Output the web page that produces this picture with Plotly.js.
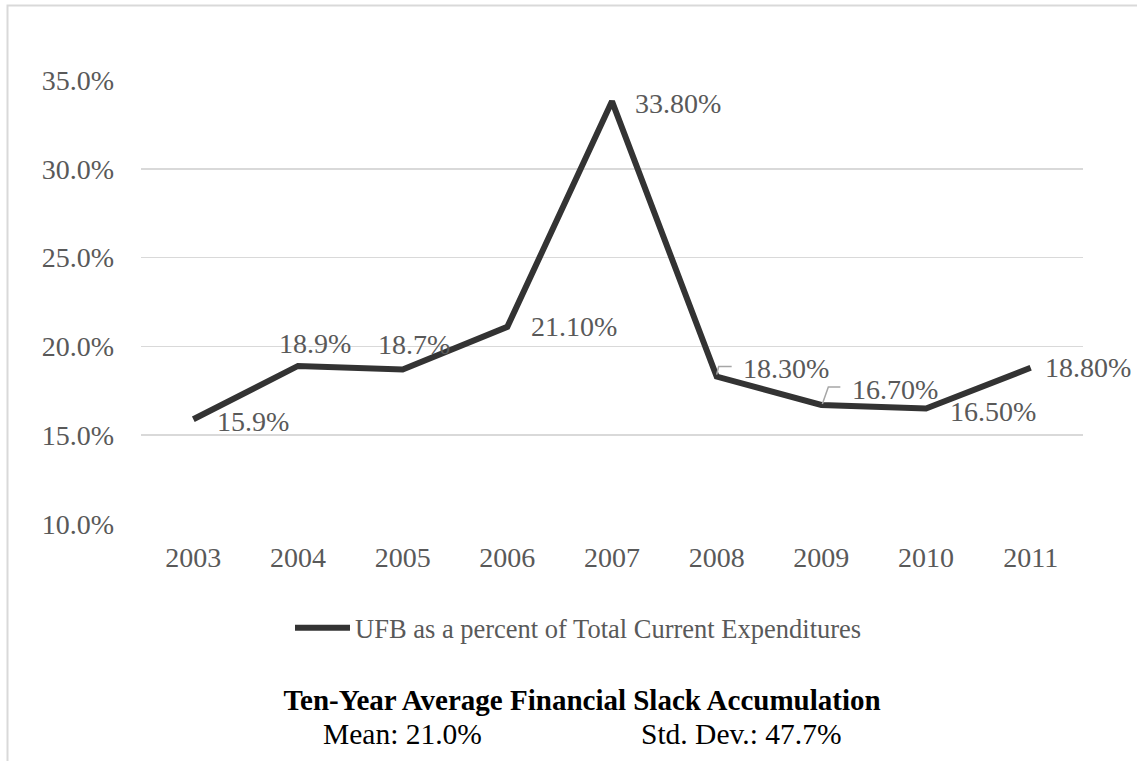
<!DOCTYPE html>
<html>
<head>
<meta charset="utf-8">
<script src="https://cdn.plot.ly/plotly-3.0.1.min.js"></script>
<style>html,body{margin:0;padding:0;background:#fff;}#chart{width:1137px;height:761px;}</style>
</head>
<body>
<div id="chart"></div>
<script>
// ---- data ----
var years = ["2003","2004","2005","2006","2007","2008","2009","2010","2011"];
var ufbPercent = [15.9, 18.9, 18.7, 21.1, 33.8, 18.3, 16.7, 16.5, 18.8];
var pointLabels = ["15.9%","18.9%","18.7%","21.10%","33.80%","18.30%","16.70%","16.50%","18.80%"];
var yTickValues = [10, 15, 20, 25, 30, 35];
var yTickLabels = ["10.0%","15.0%","20.0%","25.0%","30.0%","35.0%"];
var seriesName = "UFB as a percent of Total Current Expenditures";
var chartTitle = "Ten-Year Average Financial Slack Accumulation";
var statMean = "Mean: 21.0%";
var statStd = "Std. Dev.: 47.7%";

// ---- styling / placement (not data) ----
var W = 1137, H = 761;
var mL = 141, mR = 54, mT = 80, mB = 237;
var pw = W - mL - mR, ph = H - mT - mB;
var serif = "Liberation Serif, Times New Roman, Times, serif";
var grey = "#595959";

// label offsets per point: [xanchor, xshift, yshift]
var labelPos = [
  ["left", 22, -2],
  ["center", 17, 22],
  ["center", 11, 25],
  ["left", 22, 0],
  ["left", 21, -2],
  ["left", 24, 8],
  ["left", 29, 16],
  ["left", 22, -3],
  ["left", 12, 0]
];

var annotations = [];
for (var i = 0; i < years.length; i++) {
  annotations.push({
    x: i, y: ufbPercent[i], xref: "x", yref: "y",
    text: pointLabels[i], showarrow: false,
    xanchor: labelPos[i][0], yanchor: "middle",
    xshift: labelPos[i][1], yshift: labelPos[i][2],
    font: {family: serif, size: 28, color: grey}
  });
}
annotations.push({
  text: statMean, showarrow: false, xref: "paper", yref: "paper",
  x: (402 - mL) / pw, y: (H - mB - 734) / ph, xanchor: "center", yanchor: "middle",
  font: {family: serif, size: 29.5, color: "#000"}
});
annotations.push({
  text: statStd, showarrow: false, xref: "paper", yref: "paper",
  x: (741 - mL) / pw, y: (H - mB - 734) / ph, xanchor: "center", yanchor: "middle",
  font: {family: serif, size: 29.5, color: "#000"}
});

var bx = (7.5 - mL) / pw, by = (H - mB - 5.5) / ph;
var shapes = [
  {type: "path", xref: "paper", yref: "paper",
   path: "M " + bx + "," + (-(mB + 5) / ph) + " L " + bx + "," + by + " L " + ((W - mL + 5) / pw) + "," + by,
   line: {color: "#d9d9d9", width: 2}},
  // leader lines for 2008 and 2009 labels
  {type: "path", xref: "x", yref: "y", xsizemode: "pixel", ysizemode: "pixel",
   xanchor: 5, yanchor: ufbPercent[5],
   path: "M 0,2 L 2,10 L 15,10", line: {color: "#a6a6a6", width: 1.5}},
  {type: "path", xref: "x", yref: "y", xsizemode: "pixel", ysizemode: "pixel",
   xanchor: 6, yanchor: ufbPercent[6],
   path: "M 1,1 L 7,18 L 19,18", line: {color: "#a6a6a6", width: 1.5}}
];

var trace = {
  x: years, y: ufbPercent, type: "scatter", mode: "lines",
  name: seriesName,
  line: {color: "#333333", width: 6},
  hoverinfo: "skip"
};

var layout = {
  width: W, height: H,
  margin: {l: mL, r: mR, t: mT, b: mB, pad: 0},
  paper_bgcolor: "#fff", plot_bgcolor: "#fff",
  font: {family: serif, color: grey},
  showlegend: true,
  legend: {
    orientation: "h", x: (290 - mL) / pw, xanchor: "left",
    y: (H - mB - 628) / ph, yanchor: "middle",
    itemwidth: 55,
    font: {family: serif, size: 26.5, color: grey},
    bgcolor: "rgba(0,0,0,0)"
  },
  title: {
    text: "<b>" + chartTitle + "</b>",
    xref: "container", yref: "container",
    x: 582 / W, y: 1 - 700 / H, xanchor: "center", yanchor: "middle",
    font: {family: serif, size: 29, color: "#000"}
  },
  xaxis: {
    type: "category", range: [-0.5, 8.5],
    showgrid: false, zeroline: false, showline: false, ticks: "",
    tickfont: {family: serif, size: 28, color: grey},
    ticklabelstandoff: 14,
    fixedrange: true
  },
  yaxis: {
    range: [10, 35], tickvals: yTickValues, ticktext: yTickLabels,
    showgrid: true, gridcolor: "#d9d9d9", gridwidth: 1.5,
    zeroline: false, showline: false, ticks: "",
    tickfont: {family: serif, size: 28, color: grey},
    ticklabelstandoff: 26,
    fixedrange: true
  },
  annotations: annotations,
  shapes: shapes
};

Plotly.newPlot("chart", [trace], layout, {staticPlot: true, displayModeBar: false});
</script>
</body>
</html>
